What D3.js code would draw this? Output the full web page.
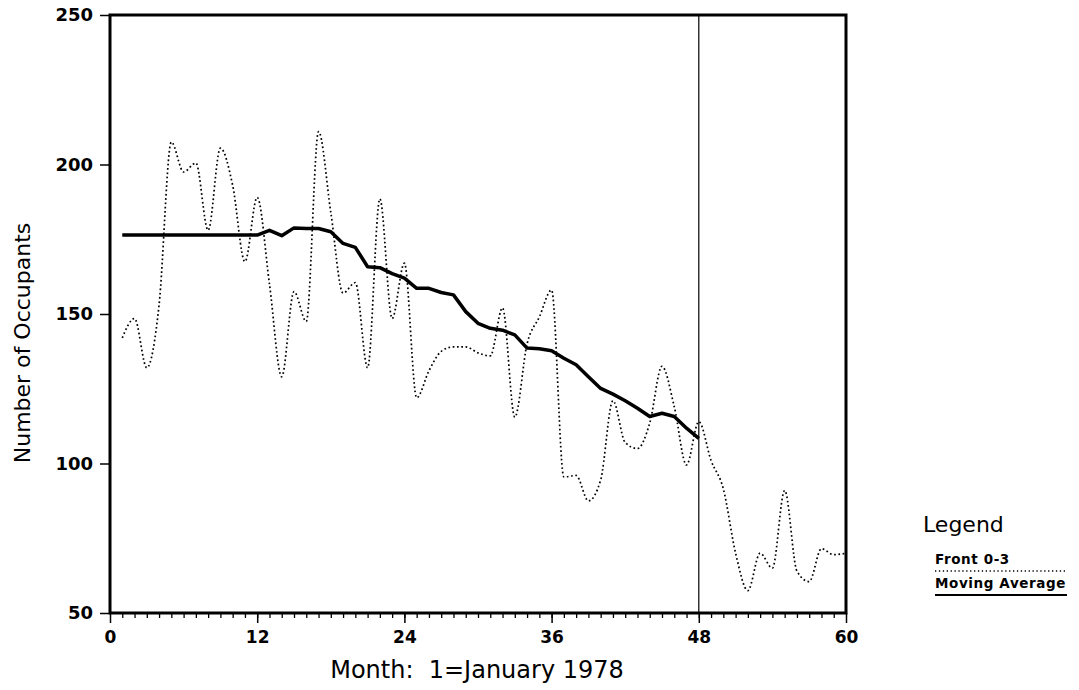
<!DOCTYPE html>
<html>
<head>
<meta charset="utf-8">
<script src="https://cdn.jsdelivr.net/npm/d3@7"></script>
<style>
  body { margin: 0; background: #fff; }
  text { font-family: "DejaVu Sans", sans-serif; fill: #000; }
</style>
</head>
<body>
<div id="chart"></div>
<script>
// Front 0-3 occupants, months 1..60
const months = d3.range(1, 61);
const frontValues = [
  142, 148.5, 132, 153, 207.5, 197.5, 200.5, 178, 205.5, 193,
  167.5, 189, 160, 129, 157.5, 147.5, 211, 184, 157, 160.5,
  132, 188.5, 148.5, 167, 122, 131, 137.5, 139, 139, 137,
  136, 152, 115.5, 140, 149, 158, 95.5, 96, 87.5, 94.5,
  121, 107, 105, 113.5, 132.5, 119, 99.5, 114, 101, 91.5,
  70, 57.5, 70, 65, 91, 64, 60.5, 71.5, 69.5, 70
];
// Moving average, months 1..48
const avgMonths = d3.range(1, 49);
const avgValues = [
  176.4, 176.4, 176.4, 176.4, 176.4, 176.4, 176.4, 176.4, 176.4, 176.4,
  176.4, 176.4, 178, 176.2, 178.8, 178.6, 178.6, 177.5, 173.6, 172.3,
  165.8, 165.5, 163.5, 162, 158.6, 158.6, 157.2, 156.4, 150.8, 146.9,
  145.2, 144.6, 143, 138.6, 138.4, 137.7, 135.2, 133, 129, 125.1,
  123.2, 121, 118.5, 115.7, 116.8, 115.7, 111.8, 108.4
];
const yTicks = [50, 100, 150, 200, 250];
const xTicks = [0, 12, 24, 36, 48, 60];
const cutMonth = 48;

const width = 1079;
const height = 690;
const margin = { top: 15, right: 233, bottom: 77, left: 110 };

const svg = d3.select("#chart").append("svg")
  .attr("width", width)
  .attr("height", height);

const x = d3.scaleLinear()
  .domain([0, 60])
  .range([margin.left, width - margin.right]);

const y = d3.scaleLinear()
  .domain([50, 250])
  .range([height - margin.bottom, margin.top]);

// Minor month ticks
svg.append("g")
  .attr("transform", `translate(0,${y(50)})`)
  .call(d3.axisBottom(x).tickValues(d3.range(1, 60)).tickSize(5).tickFormat(""))
  .call(g => g.select(".domain").remove())
  .selectAll("line").attr("stroke-width", 1.3);

// X axis
svg.append("g")
  .attr("transform", `translate(0,${y(50)})`)
  .call(d3.axisBottom(x).tickValues(xTicks).tickSize(10).tickPadding(8))
  .call(g => g.select(".domain").remove())
  .call(g => g.selectAll("line").attr("stroke-width", 1.5))
  .selectAll("text")
  .style("font-family", "DejaVu Sans")
  .style("font-size", "17px")
  .style("font-weight", "bold");

// Y axis
svg.append("g")
  .attr("transform", `translate(${x(0)},0)`)
  .call(d3.axisLeft(y).tickValues(yTicks).tickSize(10).tickPadding(7))
  .call(g => g.select(".domain").remove())
  .call(g => g.selectAll("line").attr("stroke-width", 1.5))
  .selectAll("text")
  .style("font-family", "DejaVu Sans")
  .style("font-size", "18px")
  .style("font-weight", "bold");

// Frame
svg.append("rect")
  .attr("x", x(0))
  .attr("y", y(250))
  .attr("width", x(60) - x(0))
  .attr("height", y(50) - y(250))
  .attr("fill", "none")
  .attr("stroke", "#000")
  .attr("stroke-width", 3);

// Vertical line at month 48
svg.append("line")
  .attr("x1", x(cutMonth)).attr("x2", x(cutMonth))
  .attr("y1", y(250)).attr("y2", y(50))
  .attr("stroke", "#000")
  .attr("stroke-width", 1.2);

// Front 0-3 (dotted)
const frontLine = d3.line()
  .x((d, i) => x(months[i]))
  .y(d => y(d))
  .curve(d3.curveMonotoneX);

svg.append("path")
  .datum(frontValues)
  .attr("d", frontLine)
  .attr("fill", "none")
  .attr("stroke", "#000")
  .attr("stroke-width", 1.7)
  .attr("stroke-dasharray", "1.7,2.6");

// Moving average (thick solid)
const avgLine = d3.line()
  .x((d, i) => x(avgMonths[i]))
  .y(d => y(d));

svg.append("path")
  .datum(avgValues)
  .attr("d", avgLine)
  .attr("fill", "none")
  .attr("stroke", "#000")
  .attr("stroke-width", 3.5)
  .attr("stroke-linejoin", "round");

// Axis titles
svg.append("text")
  .attr("x", 477)
  .attr("y", 678)
  .attr("text-anchor", "middle")
  .style("font-size", "24px")
  .style("white-space", "pre")
  .text("Month:  1=January 1978");

svg.append("text")
  .attr("transform", "rotate(-90)")
  .attr("x", -343)
  .attr("y", 30)
  .attr("text-anchor", "middle")
  .style("font-size", "22px")
  .text("Number of Occupants");

// Legend
const lx = 935;
svg.append("text")
  .attr("x", 923)
  .attr("y", 532)
  .style("font-size", "22px")
  .text("Legend");

svg.append("text")
  .attr("x", lx)
  .attr("y", 564)
  .style("font-size", "13.5px")
  .style("font-weight", "bold")
  .style("letter-spacing", "0.6px")
  .text("Front 0-3");

svg.append("line")
  .attr("x1", lx).attr("x2", 1067)
  .attr("y1", 571).attr("y2", 571)
  .attr("stroke", "#000")
  .attr("stroke-width", 1.3)
  .attr("stroke-dasharray", "1.3,2.6");

svg.append("text")
  .attr("x", lx)
  .attr("y", 588)
  .style("font-size", "13.5px")
  .style("font-weight", "bold")
  .style("letter-spacing", "0.6px")
  .text("Moving Average");

svg.append("line")
  .attr("x1", lx).attr("x2", 1067)
  .attr("y1", 595).attr("y2", 595)
  .attr("stroke", "#000")
  .attr("stroke-width", 2);
</script>
</body>
</html>
